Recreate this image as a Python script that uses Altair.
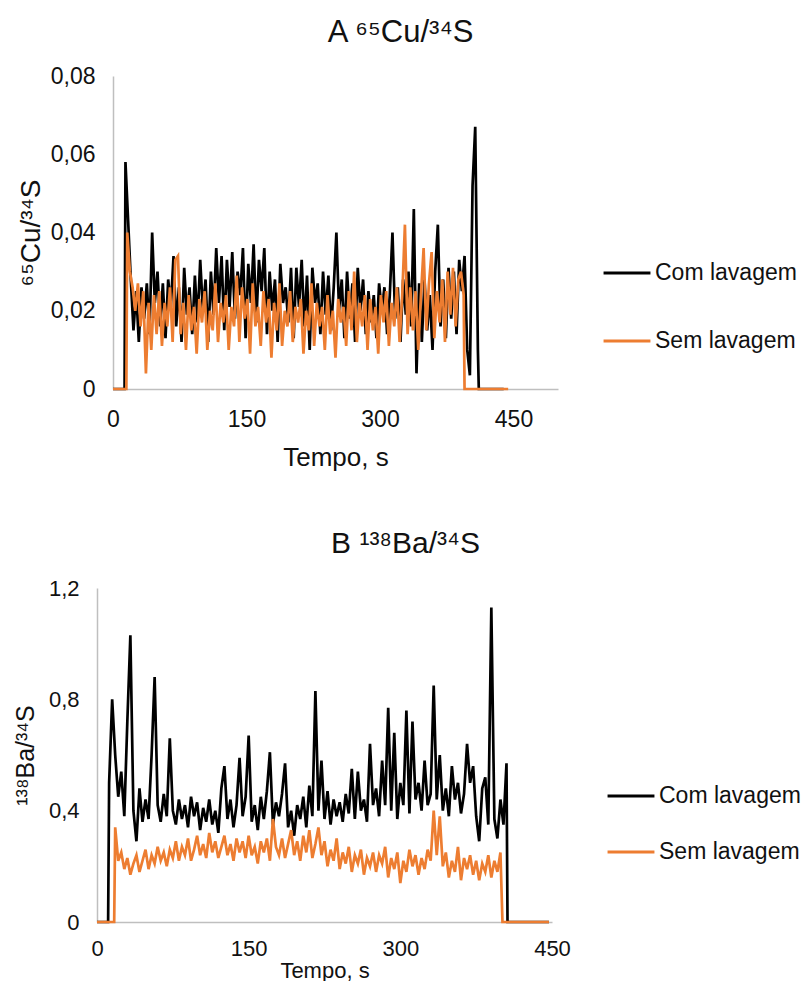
import altair as alt
import pandas as pd

FONT = "Liberation Sans"
BLACK = "#000000"
ORANGE = "#ED7D31"
AXIS_GREY = "#BFBFBF"
TXT = "#111111"
STEP = 3
SERIES = ["Com lavagem", "Sem lavagem"]

# ---------------- Panel A: 65Cu/34S ----------------
cu_com_start = 14
cu_com_pre = [0, 13]
cu_com_post = [411, 439]
cu_com = [
    0.058, 0.043, 0.028, 0.015, 0.025, 0.012, 0.026, 0.018, 0.027, 0.014,
    0.040, 0.022, 0.030, 0.016, 0.027, 0.013, 0.028, 0.021, 0.034, 0.016,
    0.026, 0.012, 0.031, 0.019, 0.026, 0.014, 0.029, 0.017, 0.033, 0.020,
    0.028, 0.012, 0.030, 0.019, 0.036, 0.022, 0.034, 0.015, 0.033, 0.021,
    0.035, 0.018, 0.030, 0.024, 0.036, 0.013, 0.032, 0.022, 0.037, 0.017,
    0.033, 0.025, 0.036, 0.014, 0.030, 0.020, 0.028, 0.012, 0.032, 0.022,
    0.026, 0.017, 0.031, 0.013, 0.031, 0.021, 0.033, 0.016, 0.029, 0.010,
    0.031, 0.022, 0.027, 0.014, 0.030, 0.019, 0.029, 0.015, 0.026, 0.040,
    0.020, 0.028, 0.013, 0.030, 0.018, 0.027, 0.012, 0.031, 0.020, 0.028,
    0.014, 0.025, 0.017, 0.024, 0.013, 0.027, 0.020, 0.026, 0.014, 0.024,
    0.040, 0.018, 0.026, 0.012, 0.028, 0.019, 0.030, 0.016, 0.046, 0.004,
    0.027, 0.012, 0.028, 0.015, 0.024, 0.010, 0.030, 0.042, 0.016, 0.028,
    0.013, 0.031, 0.018, 0.030, 0.014, 0.033, 0.025, 0.034, 0.010, 0.0035,
    0.052, 0.067, 0.010,
]

cu_sem_start = 16
cu_sem_pre = [0, 15]
cu_sem_post = [395, 444]
cu_sem = [
    0.040, 0.030, 0.026, 0.020, 0.027, 0.016, 0.025, 0.004, 0.022, 0.010,
    0.024, 0.014, 0.025, 0.011, 0.022, 0.016, 0.026, 0.012, 0.033, 0.034,
    0.014, 0.022, 0.010, 0.024, 0.015, 0.021, 0.009, 0.023, 0.017, 0.025,
    0.010, 0.020, 0.015, 0.027, 0.012, 0.022, 0.017, 0.024, 0.010, 0.021,
    0.016, 0.029, 0.012, 0.026, 0.018, 0.023, 0.009, 0.027, 0.016, 0.021,
    0.011, 0.025, 0.017, 0.023, 0.008, 0.022, 0.015, 0.027, 0.011, 0.020,
    0.016, 0.025, 0.012, 0.021, 0.017, 0.023, 0.009, 0.020, 0.015, 0.027,
    0.011, 0.022, 0.016, 0.021, 0.010, 0.024, 0.014, 0.020, 0.008, 0.023,
    0.017, 0.021, 0.011, 0.025, 0.015, 0.030, 0.012, 0.022, 0.016, 0.024,
    0.010, 0.023, 0.015, 0.021, 0.009, 0.024, 0.017, 0.025, 0.011, 0.022,
    0.016, 0.026, 0.012, 0.024, 0.042, 0.014, 0.026, 0.015, 0.025, 0.010,
    0.024, 0.036, 0.015, 0.027, 0.035, 0.013, 0.025, 0.017, 0.028, 0.012,
    0.030, 0.019, 0.031, 0.016, 0.028, 0.030, 0.024,
]

# ---------------- Panel B: 138Ba/34S ----------------
ba_com_start = 12
ba_com_pre = [0, 11]
ba_com_post = [406, 447]
ba_com = [
    0.50, 0.80, 0.60, 0.45, 0.54, 0.38, 0.72, 1.03, 0.40, 0.29,
    0.48, 0.36, 0.44, 0.37, 0.60, 0.88, 0.42, 0.36, 0.46, 0.38,
    0.66, 0.40, 0.35, 0.44, 0.37, 0.42, 0.34, 0.45, 0.38, 0.43,
    0.33, 0.41, 0.36, 0.44, 0.35, 0.40, 0.32, 0.48, 0.56, 0.37,
    0.44, 0.34, 0.42, 0.59, 0.38, 0.45, 0.67, 0.36, 0.42, 0.33,
    0.45, 0.37, 0.47, 0.61, 0.35, 0.43, 0.38, 0.46, 0.57, 0.34,
    0.40, 0.31, 0.42, 0.37, 0.45, 0.34, 0.49, 0.38, 0.83, 0.40,
    0.58, 0.37, 0.47, 0.35, 0.44, 0.38, 0.43, 0.36, 0.46, 0.39,
    0.55, 0.37, 0.54, 0.40, 0.44, 0.36, 0.64, 0.42, 0.48, 0.38,
    0.58, 0.42, 0.77, 0.40, 0.68, 0.37, 0.50, 0.42, 0.76, 0.39,
    0.72, 0.44, 0.50, 0.40, 0.58, 0.42, 0.46, 0.85, 0.44, 0.60,
    0.40, 0.48, 0.38, 0.56, 0.44, 0.50, 0.39, 0.46, 0.64, 0.50,
    0.56, 0.38, 0.29, 0.48, 0.52, 0.35, 1.13, 0.37, 0.30, 0.44,
    0.35, 0.57,
]

ba_sem_start = 18
ba_sem_pre = [0, 17]
ba_sem_post = [401, 447]
ba_sem = [
    0.34, 0.22, 0.25, 0.19, 0.23, 0.17, 0.21, 0.24, 0.18, 0.22,
    0.26, 0.19, 0.24, 0.21, 0.27, 0.22, 0.25, 0.20, 0.26, 0.23,
    0.29, 0.22, 0.27, 0.24, 0.30, 0.22, 0.26, 0.31, 0.24, 0.28,
    0.23, 0.32, 0.25, 0.29, 0.23, 0.27, 0.31, 0.24, 0.28, 0.22,
    0.30, 0.25, 0.29, 0.23, 0.31, 0.24, 0.27, 0.21, 0.29, 0.25,
    0.30, 0.22, 0.37, 0.27, 0.24, 0.30, 0.23, 0.28, 0.33, 0.24,
    0.29, 0.22, 0.31, 0.25, 0.33, 0.23, 0.28, 0.34, 0.24, 0.29,
    0.20, 0.26, 0.22, 0.30, 0.19, 0.25, 0.21, 0.27, 0.18, 0.24,
    0.21, 0.26, 0.17, 0.23, 0.20, 0.25, 0.18, 0.24, 0.21, 0.27,
    0.16, 0.23, 0.19, 0.25, 0.14, 0.22, 0.18, 0.26, 0.20, 0.24,
    0.17, 0.23, 0.19, 0.26, 0.22, 0.40, 0.24, 0.38, 0.20, 0.25,
    0.16, 0.22, 0.18, 0.27, 0.15, 0.23, 0.19, 0.24, 0.17, 0.22,
    0.15, 0.21, 0.18, 0.24, 0.16, 0.22, 0.18, 0.25,
]


def series(name, start, vals, pre, post):
    t = list(pre) + [start + STEP * i for i in range(len(vals))] + list(post)
    v = [0.0] * len(pre) + list(vals) + [0.0] * len(post)
    return pd.DataFrame({"t": t, "v": v, "s": name, "o": list(range(len(t)))})


dfA = pd.concat([
    series(SERIES[0], cu_com_start, cu_com, cu_com_pre, cu_com_post),
    series(SERIES[1], cu_sem_start, cu_sem, cu_sem_pre, cu_sem_post),
])
dfB = pd.concat([
    series(SERIES[0], ba_com_start, ba_com, ba_com_pre, ba_com_post),
    series(SERIES[1], ba_sem_start, ba_sem, ba_sem_pre, ba_sem_post),
])

common_axis = dict(grid=False, ticks=False, domainColor=AXIS_GREY, domainWidth=1.5,
                   labelFont=FONT, titleFont=FONT, labelColor=TXT, titleColor=TXT,
                   titleFontWeight="normal", labelFlush=False)


def legend(x, y, row_pad, size):
    return alt.Legend(title=None, orient="none", legendX=x, legendY=y,
                      symbolType="stroke", symbolSize=2200, symbolStrokeWidth=3,
                      labelFont=FONT, labelFontSize=size, labelColor=TXT,
                      labelOffset=3, rowPadding=row_pad, direction="vertical")


def panel(df, xscale, xaxis, yscale, yaxis, leg, width, height, title):
    base = alt.Chart(df).mark_line(strokeWidth=2.7, interpolate="linear").encode(
        x=alt.X("t:Q", scale=xscale, axis=xaxis),
        y=alt.Y("v:Q", scale=yscale, axis=yaxis),
        color=alt.Color("s:N", scale=alt.Scale(domain=SERIES, range=[BLACK, ORANGE]),
                        legend=leg),
        order="o:Q",
    )
    return base.properties(width=width, height=height, title=title)


chartA = panel(
    dfA,
    alt.Scale(domain=[0, 500], nice=False),
    alt.Axis(values=[0, 150, 300, 450], title="Tempo, s", labelFontSize=23,
             titleFontSize=26, labelPadding=19, titlePadding=13, **common_axis),
    alt.Scale(domain=[0, 0.08], nice=False),
    alt.Axis(values=[0, 0.02, 0.04, 0.06, 0.08], title="⁶⁵Cu/³⁴S",
             labelExpr="datum.value == 0 ? '0' : replace(format(datum.value, '.2f'), '.', ',')",
             labelFontSize=23, titleFontSize=28, labelPadding=18, titlePadding=5,
             **common_axis),
    legend(489, 172, 31, 23),
    445, 313,
    alt.TitleParams("A ⁶⁵Cu/³⁴S", font=FONT, fontSize=31, fontWeight="normal",
                    color=TXT, anchor="middle", frame="group", dx=65, offset=16),
)

chartB = panel(
    dfB,
    alt.Scale(domain=[0, 450], nice=False, range=[-16, 439]),
    alt.Axis(values=[0, 150, 300, 450], title="Tempo, s", labelFontSize=22,
             titleFontSize=22, labelPadding=16, titlePadding=1, **common_axis),
    alt.Scale(domain=[0, 1.2], nice=False),
    alt.Axis(values=[0, 0.4, 0.8, 1.2], title="¹³⁸Ba/³⁴S", offset=16,
             labelExpr="datum.value == 0 ? '0' : replace(format(datum.value, '.1f'), '.', ',')",
             labelFontSize=22, titleFontSize=25, labelPadding=18, titlePadding=10,
             **common_axis),
    legend(493, 183, 19, 23),
    439, 334,
    alt.TitleParams("B ¹³⁸Ba/³⁴S", font=FONT, fontSize=30, fontWeight="normal",
                    color=TXT, anchor="middle", frame="group", dx=73, offset=18),
)

chart = alt.vconcat(chartA, chartB, spacing=59).resolve_scale(
    color="independent", x="independent", y="independent"
).resolve_legend(color="independent").properties(
    padding={"left": 13, "top": 17, "right": 0, "bottom": 0},
    background="white",
).configure_view(stroke=None)

chart.save("out.html", embed_options={"renderer": "svg", "actions": False})
